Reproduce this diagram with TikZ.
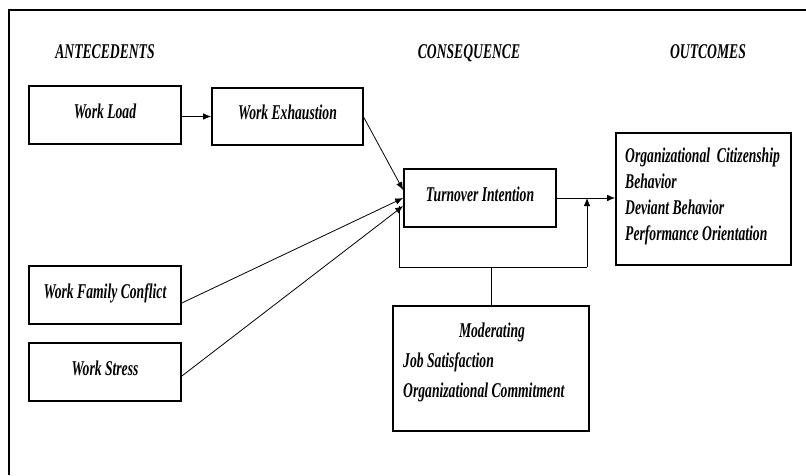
\documentclass[tikz,border=0pt]{standalone}
\usepackage{graphicx}
\usepackage{fontspec}
\setmainfont{Liberation Serif}
\usetikzlibrary{arrows.meta}
\newcommand\cx[1]{\scalebox{0.65}[1]{#1}}
\tikzset{
  box/.style={draw=black, line width=1.7pt, fill=white, inner sep=0pt},
  txt/.style={inner sep=0pt, font=\fontsize{21}{24}\selectfont\bfseries\itshape},
  conn/.style={draw=black, line width=0.8pt},
  arr/.style={conn, -{Latex[length=8pt,width=6.5pt]}}
}
\begin{document}
\begin{tikzpicture}[x=1pt,y=-1pt]
\useasboundingbox (0,0) rectangle (806,475);
\fill[white] (0,0) rectangle (806,475);
% outer frame (top and left sides visible)
\draw[line width=1.8pt] (9,475) -- (9,10) -- (806,10);

% headers
\node[txt, anchor=base] (hA) at (105,58) {\cx{ANTECEDENTS}};
\node[txt, anchor=base] (hC) at (469,58) {\cx{CONSEQUENCE}};
\node[txt, anchor=base] (hO) at (708,58) {\cx{OUTCOMES}};

% boxes
\node[box, minimum width=152pt, minimum height=58pt] (wl) at (105,115) {};
\node[box, minimum width=151pt, minimum height=57pt] (we) at (287.5,116.5) {};
\node[box, minimum width=152pt, minimum height=58pt] (wfc) at (105,295) {};
\node[box, minimum width=152pt, minimum height=58pt] (ws) at (105,372) {};
\node[box, minimum width=152pt, minimum height=58pt] (ti) at (480,198) {};
\node[box, minimum width=175pt, minimum height=132pt] (oc) at (703.5,199) {};
\node[box, minimum width=196pt, minimum height=125pt] (mod) at (491,368.5) {};

% box texts
\node[txt, anchor=base] (wlt) at (105,118) {\cx{Work Load}};
\node[txt, anchor=base] (wet) at (287.5,119) {\cx{Work Exhaustion}};
\node[txt, anchor=base] (wfct) at (105,298) {\cx{Work Family Conflict}};
\node[txt, anchor=base] (wst) at (105,375) {\cx{Work Stress}};
\node[txt, anchor=base] (tit) at (480,201) {\cx{Turnover Intention}};

\node[txt, anchor=base west] (oc1) at (625,162) {\cx{Organizational\ \ Citizenship}};
\node[txt, anchor=base west] (oc2) at (625,188) {\cx{Behavior}};
\node[txt, anchor=base west] (oc3) at (625,214) {\cx{Deviant Behavior}};
\node[txt, anchor=base west] (oc4) at (625,240) {\cx{Performance Orientation}};

\node[txt, anchor=base] (m1) at (492,337) {\cx{Moderating}};
\node[txt, anchor=base west] (m2) at (403,367) {\cx{Job Satisfaction}};
\node[txt, anchor=base west] (m3) at (403,397) {\cx{Organizational Commitment}};

% connectors
\draw[arr] (wl.east |- we.west) -- (we.west);
\draw[arr] ([yshift=-1pt]we.east) -- ([yshift=8pt]ti.west);
\draw[arr] ([yshift=-8pt]wfc.east) -- (ti.west);
\draw[arr] ([yshift=-4pt]ws.east) -- ([yshift=-8pt]ti.west);
\draw[arr] (ti.east) -- (oc.west |- ti.east);

% moderating connectors
\coordinate (j) at (491,267);
\coordinate (jl) at (399,267);
\coordinate (jr) at (587,267);
\draw[conn] (mod.north) -- (j);
\draw[conn] (jl) -- (jr);
\draw[arr] (jr) -- (jr |- ti.east);
\draw[conn] (jl) -- (399,206);
\end{tikzpicture}
\end{document}
